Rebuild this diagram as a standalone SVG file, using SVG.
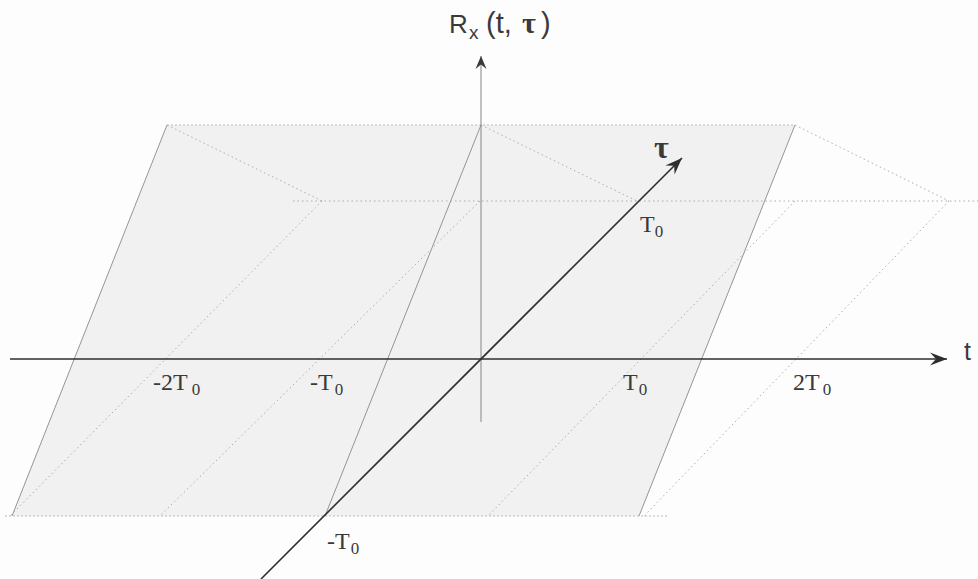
<svg xmlns="http://www.w3.org/2000/svg" width="978" height="579" viewBox="0 0 978 579">
<style>
.bg{fill:#fdfdfd}
.plane{fill:#f1f1f1;stroke:none}
.edge{stroke:#959595;stroke-width:1;fill:none}
.dot{stroke:#acacac;stroke-width:1;stroke-dasharray:1.5 3;fill:none}
.dotd{stroke:#bababa;stroke-width:1;stroke-dasharray:2 2;fill:none}
.axis{stroke:#2e2e2e;stroke-width:1.6;fill:none}
.vaxis{stroke:#858585;stroke-width:1;fill:none}
.lbl{font-family:"Liberation Serif",serif;fill:#3a3a3a}
.sans{font-family:"Liberation Sans",sans-serif;fill:#3a3a3a}
</style>
<defs>
<marker id="head" markerUnits="userSpaceOnUse" markerWidth="24" markerHeight="16" viewBox="-18 -8 20 16" refX="0" refY="0" orient="auto">
<path d="M0,0 L-17,-6.5 L-11,0 L-17,6.5 Z" fill="#2e2e2e"/>
</marker>
<marker id="vhead" markerUnits="userSpaceOnUse" markerWidth="16" markerHeight="14" viewBox="-14 -7 16 14" refX="0" refY="0" orient="auto">
<path d="M0,0 L-13,-5.5 L-8.5,0 L-13,5.5 Z" fill="#3a3a3a"/>
</marker>
</defs>
<rect class="bg" x="0" y="0" width="978" height="579"/>
<g id="plane">
<polygon class="plane" points="167,125 795,125 639,516 12,516"/>
<line class="dotd" x1="167" y1="125" x2="795" y2="125"/>
<line class="dotd" x1="5" y1="516" x2="667" y2="516"/>
<line class="edge" x1="167" y1="125" x2="12" y2="516"/>
<line class="edge" x1="481" y1="125" x2="325" y2="516"/>
<line class="edge" x1="795" y1="125" x2="639" y2="516"/>
</g>
<g id="dotted-lines">
<line class="dot" x1="167" y1="125" x2="322" y2="201"/>
<line class="dot" x1="481" y1="125" x2="637" y2="201"/>
<line class="dot" x1="795" y1="125" x2="949" y2="201"/>
<line class="dot" x1="293" y1="201" x2="978" y2="201"/>
<line class="dot" x1="322" y1="201" x2="10" y2="516"/>
<line class="dot" x1="480" y1="201" x2="160" y2="516"/>
<line class="dot" x1="795" y1="201" x2="488" y2="516"/>
<line class="dot" x1="949" y1="201" x2="644" y2="516"/>
</g>
<g id="connectors">
<line id="r-axis" class="vaxis" x1="481" y1="422" x2="481" y2="56" marker-end="url(#vhead)"/>
<line id="t-axis" class="axis" x1="10" y1="359" x2="947" y2="359" marker-end="url(#head)"/>
<line id="tau-axis" class="axis" x1="261" y1="579" x2="682" y2="158" marker-end="url(#head)"/>
</g>
<g id="label-r">
<text class="sans" x="449" y="33" font-size="26">R</text>
<text class="sans" x="469" y="39" font-size="19">x</text>
<text class="sans" x="486" y="33" font-size="29">(t,</text>
<text class="lbl" x="522" y="33" font-size="30" font-weight="bold">τ</text>
<text class="sans" x="541" y="33" font-size="29">)</text>
</g>
<g id="label-t"><text class="sans" x="964" y="360" font-size="25">t</text></g>
<g id="label-tau"><text class="lbl" x="654" y="158" font-size="32" font-weight="bold">τ</text></g>
<g id="ticks">
<text class="lbl" x="640" y="232" font-size="24">T<tspan font-size="17" dy="5">0</tspan></text>
<text class="lbl" x="153" y="390" font-size="24">-2T<tspan font-size="17" dx="4" dy="5">0</tspan></text>
<text class="lbl" x="310" y="390" font-size="24">-T<tspan font-size="17" dx="2" dy="5">0</tspan></text>
<text class="lbl" x="623" y="390" font-size="24">T<tspan font-size="17" dx="1" dy="5">0</tspan></text>
<text class="lbl" x="793" y="390" font-size="24">2T<tspan font-size="17" dx="3" dy="5">0</tspan></text>
<text class="lbl" x="327" y="549" font-size="24">-T<tspan font-size="17" dx="1" dy="5">0</tspan></text>
</g>
</svg>
